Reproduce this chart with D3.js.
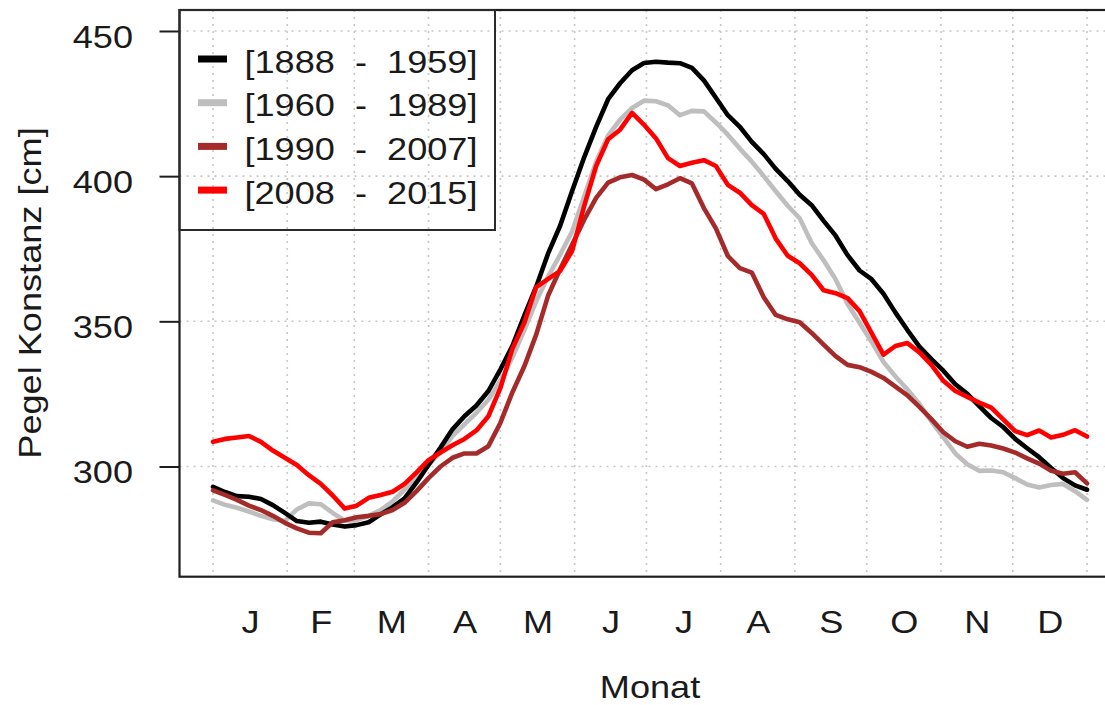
<!DOCTYPE html>
<html>
<head>
<meta charset="utf-8">
<script src="https://cdn.jsdelivr.net/npm/d3@7"></script>
<style>
  html, body { margin: 0; padding: 0; background: #ffffff; }
  svg { display: block; }
  text { font-family: "Liberation Sans", Arial, Helvetica, sans-serif; fill: #1a1a1a; }
</style>
</head>
<body>
<script>
// Water level at gauge Konstanz, mean daily curve per period (cm), sampled every 5 days
const days = [0,5,10,15,20,25,30,35,40,45,50,55,60,65,70,75,80,85,90,95,100,105,110,115,120,125,130,135,140,145,150,155,160,165,170,175,180,185,190,195,200,205,210,215,220,225,230,235,240,245,250,255,260,265,270,275,280,285,290,295,300,305,310,315,320,325,330,335,340,345,350,355,360,365];

const level1888 = [293,291.2,289.8,289.6,288.8,286.7,284,281.2,280.6,281,280,279.3,279.8,280.8,283.5,286,289,294.5,300.5,306.5,312.8,317.3,321,326,333.4,341.5,352,362,373.5,383,395,406.5,417,426.5,432,436.5,439,439.4,439.1,438.9,437.3,433,427,421,417,411.8,407.6,402.5,398.3,393.6,390,384.6,379.5,372.8,367.5,364.5,359.5,353,347,341.3,337,333,328.3,325,320.8,316.7,313.6,309.5,306.3,303.2,299.5,296,293.5,292];

const level1960 = [288.3,286.8,285.8,284.5,283,281.8,281.2,285.2,287.3,287,284,281.3,281.5,283,285,288,292,296,300.5,305,310.5,314.5,318.5,323,329.5,337.5,347,357,365.5,373,381,393,405,414,419.5,423.5,426,425.8,424.4,421,422.5,422.3,418.5,414.3,409.5,405,400,394.8,389.8,385.5,377,371,364.5,356,349.5,343,336,331,326.5,321.5,315.5,310,304.5,300.8,298.5,298.6,298,296,293.8,292.8,293.6,294,291.5,288.5];

const level1990 = [291.8,290.2,288.5,286.5,285,283,280.6,278.7,277.2,277,280.8,281.5,282.5,283,283.6,285,287.5,291.5,296,300,303,304.5,304.5,307,315,325.5,334.5,345.5,359,368,376.5,385,392.5,397.8,399.6,400.4,398.8,395.5,397.2,399.3,397.5,389,382,372.5,368.3,366.8,358.3,352.2,350.7,349.7,346,342,338,335,334.2,332.6,330.5,327.5,324.5,320.5,316.3,311.8,308.7,306.8,307.8,307.2,306.2,304.8,302.8,301,298.5,297.5,298,294.2];

const level2008 = [308.5,309.5,310,310.5,308.5,305.5,303,300.5,297,294,290,285.5,286.5,289.2,290.2,291.3,294,298,302.2,304.8,307.3,309.5,312.4,317.3,327,340.5,349.5,361.8,364.6,367.4,374.3,389.7,403.5,412.7,416,421.8,417.7,413,406.2,403.5,404.6,405.5,403.5,397,394.3,390,387,378.5,372.6,370,366,360.7,359.7,358,353.5,346,338.5,341.5,342.5,339.3,335,329.5,326,324,322,320.3,316.2,312.2,310.8,312.4,310,310.9,312.5,310.3];

const seriesNames = ["[1888  -  1959]", "[1960  -  1989]", "[1990  -  2007]", "[2008  -  2015]"];
const seriesColors = ["#000000", "#bebebe", "#a52a2a", "#ff0000"];
const seriesValues = [level1888, level1960, level1990, level2008];

const monthLabels = ["J","F","M","A","M","J","J","A","S","O","N","D"];
const monthLengths = [31,28,31,30,31,30,31,31,30,31,30,31];
const yTicks = [300, 350, 400, 450];

// Month boundaries (day of year) and month centres
const monthStarts = [0];
monthLengths.forEach(n => monthStarts.push(monthStarts[monthStarts.length - 1] + n));
const monthMids = monthLengths.map((n, i) => monthStarts[i] + n / 2);

const W = 1105, H = 705;
const STRETCH = 1.13;          // glyph width factor of the lettering
const FONT = 32;

const svg = d3.select("body").append("svg").attr("width", W).attr("height", H);

const plotLeft = 179.5, plotTop = 10, plotBottom = 576.7;
const x = d3.scaleLinear().domain([-14, 379]).range([plotLeft, plotLeft + 393 * 2.3945]);
const y = d3.scaleLinear().domain([262.04, 457.23]).range([plotBottom, plotTop]);
const plotRight = x(379);

// grid
const grid = svg.append("g").attr("stroke", "#c6c6c6").attr("stroke-width", 1.6)
  .attr("stroke-dasharray", "2,5").attr("fill", "none");
grid.selectAll("line.v").data(monthStarts).join("line").attr("class", "v")
  .attr("x1", d => x(d)).attr("x2", d => x(d)).attr("y1", plotTop).attr("y2", plotBottom);
grid.selectAll("line.h").data(yTicks).join("line").attr("class", "h")
  .attr("x1", plotLeft).attr("x2", plotRight).attr("y1", d => y(d)).attr("y2", d => y(d));

// curves
const line = d3.line().x((d, i) => x(days[i])).y(d => y(d));
const drawOrder = [1, 0, 2, 3];
svg.append("g").selectAll("path").data(drawOrder).join("path")
  .attr("d", k => line(seriesValues[k]))
  .attr("fill", "none")
  .attr("stroke", k => seriesColors[k])
  .attr("stroke-width", 4.6)
  .attr("stroke-linejoin", "round")
  .attr("stroke-linecap", "round");

// frame
svg.append("rect").attr("x", plotLeft).attr("y", plotTop)
  .attr("width", plotRight - plotLeft).attr("height", plotBottom - plotTop)
  .attr("fill", "none").attr("stroke", "#1e1e1e").attr("stroke-width", 2.2);

// y axis
const yAxis = svg.append("g").attr("transform", `translate(${plotLeft},0)`)
  .call(d3.axisLeft(y).tickValues(yTicks).tickSize(20).tickSizeOuter(0));
yAxis.select(".domain").remove();
yAxis.selectAll(".tick line").attr("stroke", "#1e1e1e").attr("stroke-width", 2);
yAxis.selectAll(".tick text")
  .attr("x", -46.5 / STRETCH).attr("dy", null).attr("y", 16.5)
  .attr("transform", `scale(${STRETCH},1)`)
  .style("font-size", FONT + "px").style("font-family", "'Liberation Sans', Arial, sans-serif")
  .attr("fill", "#1a1a1a");

// x axis (month initials)
const xAxis = svg.append("g").attr("transform", `translate(0,${plotBottom})`)
  .call(d3.axisBottom(x).tickValues(monthMids).tickSize(0).tickFormat((d, i) => monthLabels[i]));
xAxis.select(".domain").remove();
xAxis.selectAll(".tick text")
  .attr("y", 633 - plotBottom).attr("dy", null)
  .attr("transform", `scale(${STRETCH},1)`)
  .attr("x", 0)
  .style("font-size", FONT + "px").style("font-family", "'Liberation Sans', Arial, sans-serif")
  .attr("fill", "#1a1a1a");

// axis titles
svg.append("text")
  .attr("transform", `translate(${(plotLeft + plotRight) / 2},698) scale(${STRETCH},1)`)
  .attr("text-anchor", "middle").style("font-size", FONT + "px")
  .text("Monat");
svg.append("text")
  .attr("transform", `translate(41,293) rotate(-90) scale(${STRETCH},1)`)
  .attr("text-anchor", "middle").style("font-size", FONT + "px")
  .text("Pegel Konstanz [cm]");

// legend
const legend = svg.append("g");
legend.append("rect").attr("x", plotLeft).attr("y", plotTop).attr("width", 495 - plotLeft).attr("height", 230 - plotTop)
  .attr("fill", "none").attr("stroke", "#2a2a2a").attr("stroke-width", 2);
const rows = legend.selectAll("g.row").data(seriesNames).join("g").attr("class", "row")
  .attr("transform", (d, i) => `translate(0,${59 + i * 43.7})`);
rows.append("line").attr("x1", 198).attr("x2", 227).attr("y1", 0).attr("y2", 0)
  .attr("stroke", (d, i) => seriesColors[i]).attr("stroke-width", 7);
rows.append("text")
  .attr("transform", `translate(244.4,13.5) scale(${STRETCH},1)`)
  .style("font-size", FONT + "px")
  .style("white-space", "pre")
  .text(d => d);
</script>
</body>
</html>
